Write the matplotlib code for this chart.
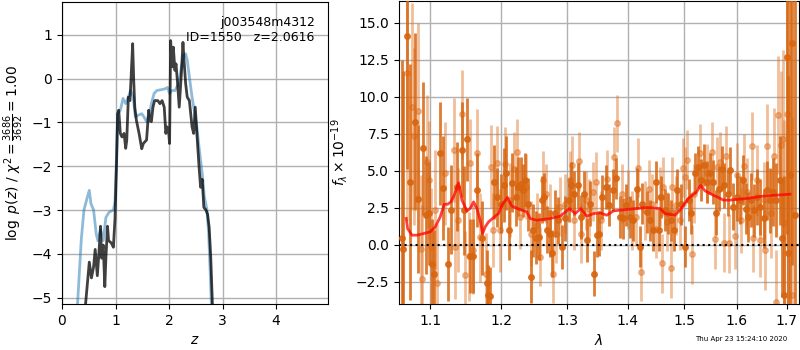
import matplotlib
matplotlib.use('Agg')
import matplotlib.pyplot as plt
from matplotlib.ticker import FixedLocator, NullLocator, FixedFormatter

# ---- p(z) panel ----
z_full = [0.20, 0.29, 0.36, 0.41, 0.47, 0.51, 0.54, 0.59, 0.64, 0.67, 0.72, 0.77, 0.82, 0.88, 0.96,
          0.99, 1.02, 1.04, 1.09, 1.14, 1.19, 1.24, 1.28, 1.33, 1.37, 1.43, 1.49, 1.53, 1.58, 1.63,
          1.67, 1.72, 1.77, 1.86, 1.93, 1.97, 2.01, 2.05, 2.11, 2.18, 2.22, 2.27, 2.31, 2.34, 2.38,
          2.43, 2.47, 2.52, 2.56, 2.62, 2.66, 2.71, 2.74, 2.77, 2.79, 2.90]
lnp_full = [-8.0, -5.15, -3.68, -3.0, -2.72, -2.55, -2.85, -3.0, -3.55, -3.7, -3.45, -3.7, -3.17, -3.05, -3.0,
            -2.8, -1.72, -0.8, -0.72, -0.45, -0.57, -0.42, -0.27, -0.42, -0.87, -0.83, -0.8, -0.87, -0.98, -0.83,
            -0.57, -0.34, -0.27, -0.25, -0.23, -0.2, -0.34, -0.27, -0.27, -0.11, 0.19, 0.53, 0.57, 0.42, 0.04,
            -0.42, -0.72, -1.1, -1.56, -2.17, -2.7, -3.0, -3.55, -4.45, -5.15, -8.0]

z_chi2 = [0.40, 0.44, 0.51, 0.55, 0.59, 0.62, 0.66, 0.69, 0.72, 0.74, 0.77, 0.80, 0.82, 0.85, 0.87,
          0.92, 0.96, 0.99, 1.02, 1.04, 1.06, 1.09, 1.12, 1.16, 1.19, 1.21, 1.24, 1.27, 1.30, 1.32,
          1.34, 1.36, 1.39, 1.44, 1.49, 1.52, 1.58, 1.62, 1.64, 1.67, 1.70, 1.73, 1.79, 1.83, 1.87,
          1.91, 1.94, 1.96, 1.99, 2.01, 2.03, 2.06, 2.08, 2.11, 2.13, 2.16, 2.19, 2.23, 2.26, 2.28,
          2.31, 2.34, 2.38, 2.43, 2.46, 2.49, 2.52, 2.56, 2.59, 2.62, 2.65, 2.69, 2.72, 2.75, 2.78,
          2.81, 2.88]
lnp_chi2 = [-8.0, -5.15, -4.19, -4.55, -4.3, -3.9, -4.5, -3.98, -3.37, -4.1, -3.8, -4.75, -4.1, -3.37, -3.7,
            -3.75, -3.85, -3.2, -1.9, -0.8, -0.72, -1.25, -1.33, -1.25, -1.59, -1.4, -0.42, -0.5, 0.27, 0.8,
            -0.04, -0.65, -0.95, -1.25, -1.6, -1.48, -1.4, -0.72, -0.95, -0.98, -0.65, -0.5, -0.5, -0.57, -0.5,
            -0.65, -1.25, -1.1, -1.18, -1.48, 0.87, 0.27, 0.72, 0.19, 0.34, -0.11, -0.65, 0.11, 0.83, 0.42,
            -0.11, -0.42, -0.5, -1.1, -1.25, -0.65, -1.25, -2.0, -2.48, -2.3, -2.94, -3.0, -3.1, -3.4, -4.1,
            -5.15, -8.0]

# ---- spectrum panel ----
wave_a = [1.0625, 1.0643, 1.0689, 1.0725, 1.0794, 1.0840, 1.0909, 1.0945, 1.0977, 1.1028, 1.1055, 1.1128,
          1.1174, 1.1243, 1.1284, 1.1367, 1.1435, 1.1458, 1.1504, 1.1541, 1.1586, 1.1651, 1.1715, 1.1788,
          1.1802, 1.1834, 1.1884, 1.1939,
          1.1993, 1.2030, 1.2066, 1.2107, 1.2159, 1.2211, 1.2252, 1.2289, 1.2325, 1.2356, 1.2392, 1.2434,
          1.2470, 1.2511, 1.2563, 1.2605, 1.2641, 1.2693, 1.2729, 1.2770, 1.2807, 1.2858, 1.2915, 1.2972,
          1.3029, 1.3066, 1.3118, 1.3169, 1.3221, 1.3273, 1.3325, 1.3376, 1.3439, 1.3480,
          1.3516, 1.3574, 1.3632, 1.3690, 1.3748, 1.3806, 1.3864, 1.3922, 1.3980, 1.4038, 1.4096, 1.4154,
          1.4212, 1.4253, 1.4328, 1.4386, 1.4444, 1.4485, 1.4543, 1.4589, 1.4647, 1.4705, 1.4763, 1.4821,
          1.4879, 1.4949, 1.5024, 1.5082, 1.5128, 1.5198,
          1.5252, 1.5317, 1.5363, 1.5416, 1.5481, 1.5533, 1.5599, 1.5651, 1.5710, 1.5756, 1.5822, 1.5874,
          1.5926, 1.5992, 1.6057, 1.6123, 1.6169, 1.6215, 1.6280, 1.6346, 1.6398, 1.6464, 1.6529, 1.6595,
          1.6660, 1.6726, 1.6791, 1.6857, 1.6909, 1.6955, 1.7001, 1.7020, 1.7073, 1.7119, 1.7171]
flux_a = [0.47, -0.27, 14.1, 4.23, 8.3, 3.1, 6.5, 2.0, 2.1, -1.3, -2.0, 6.15,
          3.8, -1.3, 2.36, 3.9, 6.4, 2.3, 7.1, -0.8, -0.8, 3.7, 0.47, -2.6,
          -3.4, -3.5, 4.2, 3.2,
          2.77, 4.0, 4.8, 0.97, 4.17, 3.22, 3.9, 4.1, 3.67, 4.35, 2.72, -2.18,
          0.97, 0.47, 0.52, 3.04, 3.22, 1.01, 0.74, -0.6, 2.1, 1.64, -0.15, 1.76,
          3.0, 4.0, 3.44, 4.0, 1.87, 3.44, 0.29, 2.77, -1.96, 0.63,
          0.74, 3.22, 3.9, 2.66, 3.67, 4.46, 1.87, 1.76, 2.66, 1.87, 1.64, 3.78,
          -0.15, 2.77, 2.21, 1.64, 0.97, 4.23, 0.97, 3.22, 2.32, 2.1, 1.64, 0.97,
          3.67, 2.72, -0.15, 3.0, 2.1, 4.8,
          5.25, 4.35, 5.36, 4.23, 4.8, 4.23, 2.16, 3.78, 5.13, 4.0, 3.44, 5.02,
          2.55, 3.22, 3.0, 4.35, 2.43, 1.87, 3.0, 2.32, 3.22, 2.55, 1.76, 3.67,
          3.0, 3.56, 3.0, 4.35, 0.47, -3.4, 12.7, -0.6, 4.68, 13.6, 1.98]
err_a = [12, 12, 9, 8, 6, 5, 4.5, 4, 3.5, 3, 3, 3.5,
         3.5, 2.5, 3, 3, 3.2, 3, 2.8, 2.5, 2.5, 2.5, 2.5, 2.2,
         2, 2, 2.5, 2,
         2, 2.5, 2.5, 2, 2, 2, 2, 1.8, 1.8, 1.8, 1.8, 1.8,
         1.8, 1.8, 1.6, 1.6, 1.6, 1.6, 1.6, 1.6, 1.6, 1.6, 1.5, 1.5,
         1.5, 1.6, 1.5, 1.5, 1.5, 1.5, 1.5, 1.5, 1.5, 1.5,
         1.5, 1.5, 1.5, 1.4, 1.4, 1.4, 1.4, 1.4, 1.4, 1.4, 1.4, 1.4,
         1.4, 1.4, 1.4, 1.4, 1.4, 1.4, 1.4, 1.4, 1.4, 1.4, 1.4, 1.4,
         1.4, 1.4, 1.4, 1.4, 1.4, 1.4,
         1.4, 1.4, 1.4, 1.4, 1.4, 1.5, 1.5, 1.5, 1.5, 1.5, 1.5, 1.6,
         1.6, 1.6, 1.6, 1.7, 1.7, 1.7, 1.8, 1.8, 1.9, 1.9, 2.0, 2.0,
         2.2, 2.3, 2.5, 3.0, 4, 8, 12, 12, 15, 15, 15]

wave_b = [1.0689, 1.0762, 1.0780, 1.0840, 1.0872, 1.0886, 1.0954, 1.0977, 1.1009, 1.1069, 1.1092, 1.1206,
          1.1321, 1.1344, 1.1376, 1.1435, 1.1481, 1.1527, 1.1550, 1.1586, 1.1651, 1.1687, 1.1770, 1.1848,
          1.1880, 1.1939,
          1.1978, 1.2045, 1.2133, 1.2185, 1.2237, 1.2273, 1.2366, 1.2444, 1.2532, 1.2574, 1.2625, 1.2677,
          1.2729, 1.2781, 1.2833, 1.2895, 1.2962, 1.3040, 1.3081, 1.3118, 1.3185, 1.3221, 1.3299, 1.3351,
          1.3413, 1.3470,
          1.3545, 1.3649, 1.3765, 1.3823, 1.3905, 1.4009, 1.4067, 1.4137, 1.4183, 1.4229, 1.4299, 1.4369,
          1.4427, 1.4502, 1.4560, 1.4601, 1.4624, 1.4693, 1.4763, 1.4775, 1.4850, 1.4925, 1.4983, 1.5024,
          1.5053, 1.5152, 1.5181,
          1.5285, 1.5416, 1.5514, 1.5579, 1.5612, 1.5678, 1.5743, 1.5795, 1.5841, 1.5953, 1.5992, 1.6071,
          1.6136, 1.6202, 1.6300, 1.6319, 1.6398, 1.6464, 1.6529, 1.6562, 1.6608, 1.6673, 1.6739, 1.6791,
          1.6830, 1.6889, 1.6922, 1.6942, 1.7001, 1.7119]
flux_b = [11.6, 9.3, 7.3, 9.0, -0.27, -2.3, 5.6, 4.35, -0.15, 2.36, -2.6, 4.8,
          6.4, -0.15, 1.64, 8.8, -2.07, -0.8, 5.5, -0.34, 6.15, 0.5, -2.0, 5.25,
          0.97, 5.5,
          0.97, 5.47, 3.0, 5.1, 6.26, 1.87, 3.9, 0.74, 1.3, -0.83, 4.35, 3.44,
          2.1, -1.96, 0.74, 2.55, 2.77, 4.35, 5.36, 1.64, 5.63, 0.74, 3.0, 2.43,
          3.56, 4.23,
          1.64, 4.41, 5.92, 8.18, 3.44, 3.04, 1.64, 1.87, 5.18, -1.85, 2.32, 3.74,
          2.77, 1.08, 3.22, -1.28, 3.9, 1.53, -1.62, 3.9, 2.66, 1.64, 5.18, 4.57,
          5.74, -0.65, 3.44,
          6.15, 4.8, 6.26, 0.34, 5.25, 5.6, 0.11, 6.0, 0.07, 0.56, 4.68, 1.64,
          5.3, 3.56, 6.67, 0.47, 4.35, 0.29, 3.0, -0.38, 6.67, 2.1, 6.0, -3.87,
          8.74, 6.7, 7.16, 1.42, 8.85, -3.4]
err_b = [10, 7, 6, 6, 5, 5, 4.5, 4, 4, 4, 4, 3.5,
         3.5, 3.5, 3.5, 3, 3, 3, 3, 3, 3, 3, 2.8, 2.8,
         2.5, 2.5,
         2.8, 2.5, 2.5, 2.5, 2.2, 2.2, 2.2, 2.2, 2.2, 2, 2, 2,
         2, 2, 2, 2, 2, 2, 2, 2, 2, 2, 2, 2,
         2, 2,
         2, 2, 2, 1.9, 2, 2, 2, 2, 2, 2, 2, 2,
         2, 2, 2, 2, 2, 2, 2, 2, 2, 2, 2, 2,
         2, 2, 2,
         2, 2, 2, 2, 2, 2, 2, 2, 2, 2.2, 2.2, 2.2,
         2.2, 2.3, 2.3, 2.3, 2.4, 2.5, 2.6, 2.7, 2.8, 3, 3.2, 3.5,
         4, 5, 6, 7, 9, 12]

wave_model = [1.0682, 1.0700, 1.0757, 1.0822, 1.0911, 1.1000, 1.1067, 1.1135, 1.1189, 1.1235, 1.1281,
              1.1327, 1.1387, 1.1434, 1.1504, 1.1550, 1.1598, 1.1645, 1.1692, 1.1726, 1.1764, 1.1812,
              1.1908, 1.1957, 1.2006, 1.2089, 1.2153, 1.2277, 1.2377, 1.2428, 1.2529, 1.2735, 1.2892,
              1.3039, 1.3130, 1.3221, 1.3318, 1.3427, 1.3537, 1.3647, 1.3759, 1.4042, 1.4330, 1.4565,
              1.4653, 1.4833, 1.4925, 1.5077, 1.5232, 1.5306, 1.5387, 1.5544, 1.5640, 1.5736, 1.5864,
              1.6190, 1.6522, 1.7070]
flux_model = [1.76, 1.08, 0.63, 0.63, 0.74, 0.86, 1.19, 1.87, 2.72, 2.72, 2.88,
              3.33, 4.17, 3.0, 2.27, 2.43, 2.88, 2.43, 1.64, 0.74, 1.19, 1.53,
              1.91, 2.09, 2.66, 3.18, 2.59, 2.36, 2.21, 1.76, 1.64, 1.76, 1.91,
              2.43, 2.09, 2.43, 1.91, 2.09, 2.14, 1.98, 2.27, 2.39, 2.50, 2.43,
              2.09, 1.98, 2.32, 3.11, 3.56, 4.01, 3.63, 3.33, 3.18, 3.0, 3.0,
              3.11, 3.27, 3.40]

lam_ticks = [1.1, 1.2, 1.3, 1.4, 1.5, 1.6, 1.7]
lam_labels = ['1.1', '1.2', '1.3', '1.4', '1.5', '1.6', '1.7']

fig = plt.figure(figsize=(8, 3.5), dpi=100)

ax1 = fig.add_axes([0.0775, 0.131, 0.3325, 0.863])
ax1.plot(z_full, lnp_full, color='tab:blue', alpha=0.5, lw=2)
ax1.plot(z_chi2, lnp_chi2, color='k', alpha=0.75, lw=2)
ax1.set_xlim(0, 4.97)
ax1.set_ylim(-5.15, 1.75)
ax1.set_xticks([0, 1, 2, 3, 4])
ax1.set_yticks([-5, -4, -3, -2, -1, 0, 1])
ax1.grid(True, color='#b0b0b0', lw=1)
ax1.set_axisbelow(True)
ax1.set_xlabel(r'$z$')
ax1.set_ylabel(r'$\log\ p(z)$' + ' / ' + r'$\chi^2=\frac{3686}{3692}=1.00$')
ax1.text(0.95, 0.955, 'j003548m4312\nID=1550   z=2.0616', transform=ax1.transAxes,
         ha='right', va='top', fontsize=9)

ax2 = fig.add_axes([0.49875, 0.131, 0.5, 0.866])
ax2.errorbar(wave_b, flux_b, yerr=err_b, fmt='o', color='#e07020', alpha=0.45,
             ms=4, lw=2, ecolor='#e07020', zorder=2)
ax2.errorbar(wave_a, flux_a, yerr=err_a, fmt='o', color='#d8650f', alpha=0.85,
             ms=4, lw=2, ecolor='#d8650f', zorder=3)
ax2.plot(wave_model, flux_model, color='r', alpha=0.75, lw=2, zorder=4)
ax2.axhline(0, color='k', ls=':', lw=1.5, zorder=5)
ax2.set_xscale('log')
ax2.xaxis.set_major_locator(FixedLocator(lam_ticks))
ax2.xaxis.set_major_formatter(FixedFormatter(lam_labels))
ax2.xaxis.set_minor_locator(NullLocator())
ax2.set_xlim(1.0588, 1.726)
ax2.set_ylim(-4.03, 16.45)
ax2.set_yticks([-2.5, 0.0, 2.5, 5.0, 7.5, 10.0, 12.5, 15.0])
ax2.grid(True, color='#b0b0b0', lw=1)
ax2.set_axisbelow(True)
ax2.set_xlabel(r'$\lambda$')
ax2.set_ylabel(r'$f_\lambda\times10^{-19}$')

fig.text(0.984, 0.022, 'Thu Apr 23 15:24:10 2020', ha='right', va='bottom', fontsize=5)

fig.savefig('out.png', dpi=100)
